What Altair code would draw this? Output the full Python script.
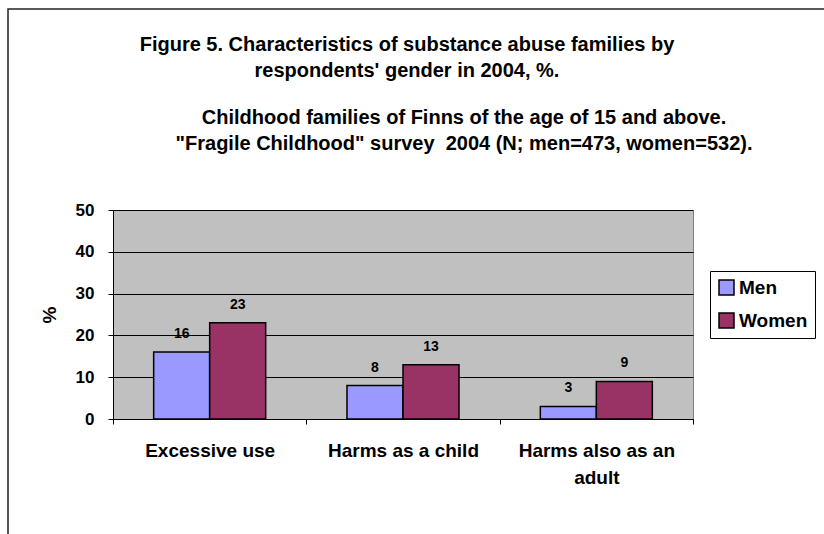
import altair as alt
import pandas as pd

categories = ["Excessive use", "Harms as a child", "Harms also as an adult"]
genders = ["Men", "Women"]
men = [16, 8, 3]
women = [23, 13, 9]
colors = ["#9999FF", "#993366"]
y_ticks = [0, 10, 20, 30, 40, 50]
title_lines = ["Figure 5. Characteristics of substance abuse families by",
               "respondents' gender in 2004, %."]
subtitle_lines = ["Childhood families of Finns of the age of 15 and above.",
                  "\"Fragile Childhood\" survey\u00a0 2004 (N; men=473, women=532)."]

rows = []
for c, m, w in zip(categories, men, women):
    rows.append({"category": c, "gender": "Men", "value": m})
    rows.append({"category": c, "gender": "Women", "value": w})
df = pd.DataFrame(rows)

FONT = "Liberation Sans"
W, H = 580, 209
PL, PT = 113, 210

x_enc = alt.X(
    "category:N", sort=categories,
    scale=alt.Scale(paddingInner=0, paddingOuter=0),
    axis=alt.Axis(
        title=None, labelAngle=0, labelFont=FONT, labelFontWeight="bold",
        labelFontSize=19, labelColor="black", labelPadding=17,
        labelLineHeight=27, domainColor="black", tickColor="black",
        tickSize=5, tickBand="extent", grid=False, labelLimit=300,
        labelExpr="datum.value == 'Harms also as an adult' ? ['Harms also as an', 'adult'] : datum.value",
    ),
)
xo_enc = alt.XOffset("gender:N", sort=genders,
                     scale=alt.Scale(paddingInner=0, paddingOuter=0.726))
y_enc = alt.Y(
    "value:Q",
    scale=alt.Scale(domain=[0, 50], nice=False),
    axis=alt.Axis(
        title="%", values=y_ticks, labelFont=FONT, labelFontWeight="bold",
        labelFontSize=17, labelColor="black", labelPadding=14,
        domainColor="black", tickColor="black", tickSize=5,
        gridColor="black", gridOpacity=1, grid=True,
        titleFont=FONT, titleFontWeight="bold", titleFontSize=19,
        titleColor="black", titleX=-64, titleY=H / 2, titleAlign="center",
        titleBaseline="middle", titleAngle=270,
    ),
)

base = alt.Chart(df).encode(x=x_enc, xOffset=xo_enc, y=y_enc)

bars = base.mark_bar(stroke="black", strokeWidth=1.5).encode(
    color=alt.Color(
        "gender:N", sort=genders,
        scale=alt.Scale(domain=genders, range=colors),
        legend=alt.Legend(
            title=None, orient="none", legendX=597, legendY=61,
            fillColor="white", strokeColor="black", padding=7,
            symbolType="square", symbolSize=225, symbolStrokeColor="black",
            symbolStrokeWidth=1.5, symbolOpacity=1,
            labelFont=FONT, labelFontWeight="bold", labelFontSize=19,
            labelColor="black", rowPadding=12, labelOffset=3,
        ),
    )
)

labels = base.mark_text(
    font=FONT, fontWeight="bold", fontSize=14, color="black",
    baseline="alphabetic", dy=-14,
).encode(text="value:Q")

one = pd.DataFrame({"k": [0]})

frame = alt.Chart(one).mark_rect(fill=None, stroke="#222222", strokeWidth=1.5).encode(
    x=alt.value(8 - PL), x2=alt.value(900), y=alt.value(9 - PT), y2=alt.value(600)
)

title = alt.Chart(one).mark_text(
    font=FONT, fontWeight="bold", fontSize=20, color="black",
    align="center", baseline="alphabetic", lineHeight=26,
).encode(x=alt.value(407 - PL), y=alt.value(51 - PT), text=alt.value(title_lines))

subtitle = alt.Chart(one).mark_text(
    font=FONT, fontWeight="bold", fontSize=20, color="black",
    align="center", baseline="alphabetic", lineHeight=26,
).encode(x=alt.value(464 - PL), y=alt.value(124 - PT), text=alt.value(subtitle_lines))

chart = alt.layer(frame, bars, labels, title, subtitle).properties(
    width=W, height=H,
    autosize=alt.AutoSizeParams(type="none"),
    padding={"left": PL, "top": PT, "right": 824 - PL - W, "bottom": 534 - PT - H},
    background="white",
).configure_view(fill="#C0C0C0", stroke="#808080", strokeWidth=1)

chart.save("out.html", embed_options={"renderer": "svg", "actions": False})
